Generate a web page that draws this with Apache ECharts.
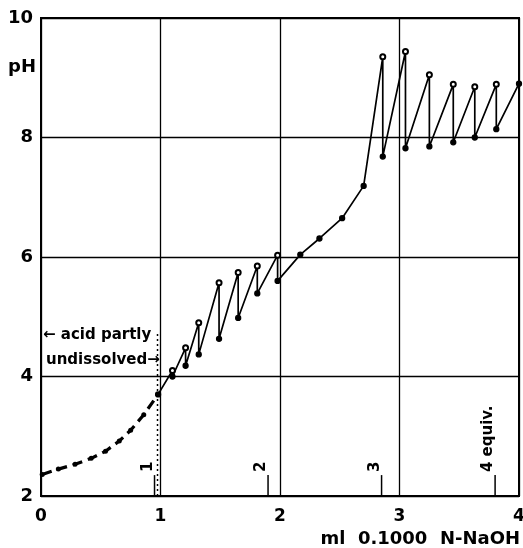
<!DOCTYPE html>
<html lang="en">
<head>
  <meta charset="UTF-8">
  <title>pH titration</title>
  <script src="https://cdn.jsdelivr.net/npm/echarts@6/dist/echarts.min.js"></script>
  <style>
    html, body { margin: 0; padding: 0; background: #fff; }
  </style>
</head>
<body>
  <div id="main" style="width: 523px;height:548px"></div>
  <script>
    // axis ticks
    var xTicks = [0, 1, 2, 3, 4];
    var yTicks = [2, 4, 6, 8, 10];

    // dashed part (acid partly undissolved)
    var dashX = [0.01, 0.145, 0.285, 0.42, 0.54, 0.655, 0.75, 0.86, 0.98];
    var dashPH = [2.36, 2.45, 2.53, 2.63, 2.75, 2.92, 3.10, 3.36, 3.70];

    // solid saw-tooth curve
    var mainX = [0.98, 1.10, 1.10, 1.21, 1.21, 1.32, 1.32, 1.49, 1.49, 1.65, 1.65, 1.81, 1.81, 1.98, 1.98,
      2.17, 2.33, 2.52, 2.70, 2.86, 2.86, 3.05, 3.05, 3.25, 3.25, 3.45, 3.45, 3.63, 3.63, 3.81, 3.81, 4.0];
    var mainPH = [3.70, 4.10, 4.00, 4.48, 4.18, 4.90, 4.37, 5.57, 4.63, 5.74, 4.98, 5.85, 5.39, 6.03, 5.60,
      6.04, 6.31, 6.65, 7.19, 9.35, 7.68, 9.44, 7.82, 9.05, 7.85, 8.89, 7.92, 8.85, 8.00, 8.89, 8.14, 8.90];

    // equivalence marks
    var equivX = [0.95, 1.90, 2.85, 3.80];
    var equivLabels = ['1', '2', '3', '4 equiv.'];
    var equivTop = 2.35;

    // dotted border of undissolved region
    var dotX = 0.975;
    var dotPH = [2, 4.75];

    var myChart = echarts.init(document.getElementById('main'));

    var dashData = dashX.map(function (x, i) { return [x, dashPH[i]]; });
    var mainData = mainX.map(function (x, i) {
      // top of a tooth = next point has same volume and lower pH
      var isTop = i < mainX.length - 1 && mainX[i + 1] === x && mainPH[i + 1] < mainPH[i];
      return { value: [x, mainPH[i]], symbol: isTop ? 'emptyCircle' : 'circle' };
    });
    var equivData = equivX.map(function (x, i) { return [x, equivTop, equivLabels[i]]; });

    var font = 'DejaVu Sans';

    var option = {
      animation: false,
      grid: {
        left: 41, right: 4, top: 18, bottom: 52,
        outerBoundsMode: 'none',
        show: true, borderColor: '#000', borderWidth: 2
      },
      xAxis: {
        type: 'value', min: 0, max: 4, interval: 1,
        axisLine: { show: false }, axisTick: { show: false },
        splitLine: { lineStyle: { color: '#000', width: 1.3 } },
        axisLabel: {
          margin: 12, color: '#000', fontFamily: font, fontWeight: 'bold', fontSize: 17,
          formatter: function (v) { return xTicks.indexOf(v) >= 0 ? String(v) : ''; }
        }
      },
      yAxis: {
        type: 'value', min: 2, max: 10, interval: 2,
        axisLine: { show: false }, axisTick: { show: false },
        splitLine: { lineStyle: { color: '#000', width: 1.3 } },
        axisLabel: {
          margin: 8, color: '#000', fontFamily: font, fontWeight: 'bold', fontSize: 18,
          formatter: function (v) { return yTicks.indexOf(v) >= 0 ? String(v) : ''; }
        }
      },
      graphic: [
        { type: 'text', left: 8, top: 58, style: { text: 'pH', font: 'bold 18px "DejaVu Sans"', fill: '#000' } },
        { type: 'text', right: 3, top: 530, style: { text: 'ml  0.1000  N-NaOH', font: 'bold 18px "DejaVu Sans"', fill: '#000' } },
        { type: 'text', left: 43, top: 328, style: { text: '\u2190 acid partly', font: 'bold 15px "DejaVu Sans"', fill: '#000' } },
        { type: 'text', left: 46, top: 353, style: { text: 'undissolved\u2192', font: 'bold 15px "DejaVu Sans"', fill: '#000' } }
      ],
      series: [
        {
          type: 'line', data: [[dotX, dotPH[0]], [dotX, dotPH[1]]],
          showSymbol: false, lineStyle: { color: '#000', width: 1.5, type: [2, 3] }, z: 1
        },
        {
          type: 'line', data: dashData,
          symbol: 'circle', symbolSize: 5,
          itemStyle: { color: '#000' },
          lineStyle: { color: '#000', width: 3.2, type: [10, 6] }
        },
        {
          type: 'line', data: mainData,
          symbolSize: 5,
          itemStyle: { color: '#000', borderColor: '#000', borderWidth: 1.3 },
          lineStyle: { color: '#000', width: 1.7 }
        },
        {
          type: 'custom', data: equivData,
          renderItem: function (params, api) {
            var top = api.coord([api.value(0), api.value(1)]);
            var bottom = api.coord([api.value(0), 2]);
            return {
              type: 'group',
              children: [
                { type: 'line', shape: { x1: top[0], y1: top[1], x2: bottom[0], y2: bottom[1] }, style: { stroke: '#000', lineWidth: 1.5 } },
                {
                  type: 'text', x: top[0] + 1, y: top[1] - 3, rotation: Math.PI / 2,
                  style: { text: equivLabels[params.dataIndex], font: 'bold 15px "DejaVu Sans"', fill: '#000', align: 'left', verticalAlign: 'bottom' }
                }
              ]
            };
          }
        }
      ]
    };
    myChart.setOption(option);
  </script>
</body>
</html>
